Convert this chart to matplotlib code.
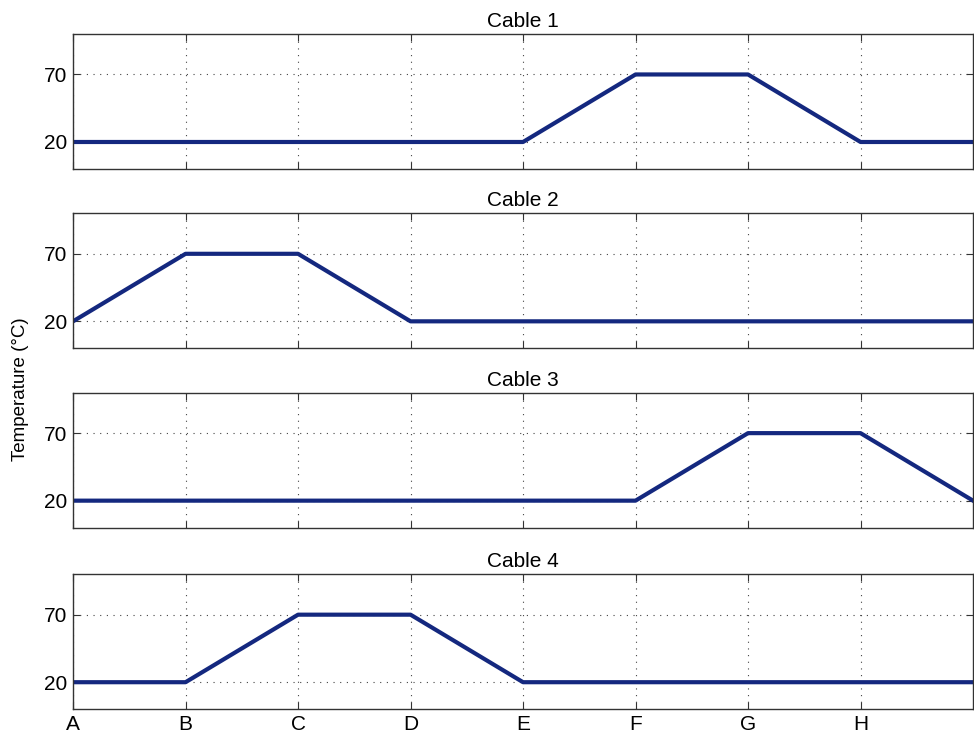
import matplotlib
matplotlib.use("Agg")
import matplotlib.pyplot as plt

plt.rcParams['font.family'] = ['Liberation Sans', 'DejaVu Sans']

# positions A..H plus end point
x = [0, 1, 2, 3, 4, 5, 6, 7, 8]
tick_labels = ['A', 'B', 'C', 'D', 'E', 'F', 'G', 'H']

cable1 = [20, 20, 20, 20, 20, 70, 70, 20, 20]
cable2 = [20, 70, 70, 20, 20, 20, 20, 20, 20]
cable3 = [20, 20, 20, 20, 20, 20, 70, 70, 20]
cable4 = [20, 20, 70, 70, 20, 20, 20, 20, 20]

cables = [cable1, cable2, cable3, cable4]
titles = ['Cable 1', 'Cable 2', 'Cable 3', 'Cable 4']
bottoms = [0.771, 0.528, 0.285, 0.039]

fig = plt.figure(figsize=(9.74, 7.38), dpi=100)

for i in range(4):
  ax = fig.add_axes([0.075, bottoms[i], 0.924, 0.183])
  ax.plot(x, cables[i], color='#14287f', linewidth=3.0)
  ax.set_xlim(0, 8)
  ax.set_ylim(0, 100)
  ax.set_yticks([20, 70])
  ax.set_xticks(range(8))
  if i == 3:
    ax.set_xticklabels(tick_labels)
  else:
    ax.set_xticklabels([])
  ax.set_title(titles[i], fontsize=15, pad=5)
  ax.grid(True, linestyle=(0, (1, 5)), color='#444444', linewidth=0.8)
  ax.tick_params(direction='in', length=5, labelsize=15, color='#333333',
                 top=True, right=True, pad=4)
  for s in ax.spines.values():
    s.set_color('#333333')
    s.set_linewidth(1.0)

fig.text(0.021, 0.472, 'Temperature (°C)', rotation=90, fontsize=13.5,
         ha='center', va='center')

fig.savefig('out.png', dpi=100)
